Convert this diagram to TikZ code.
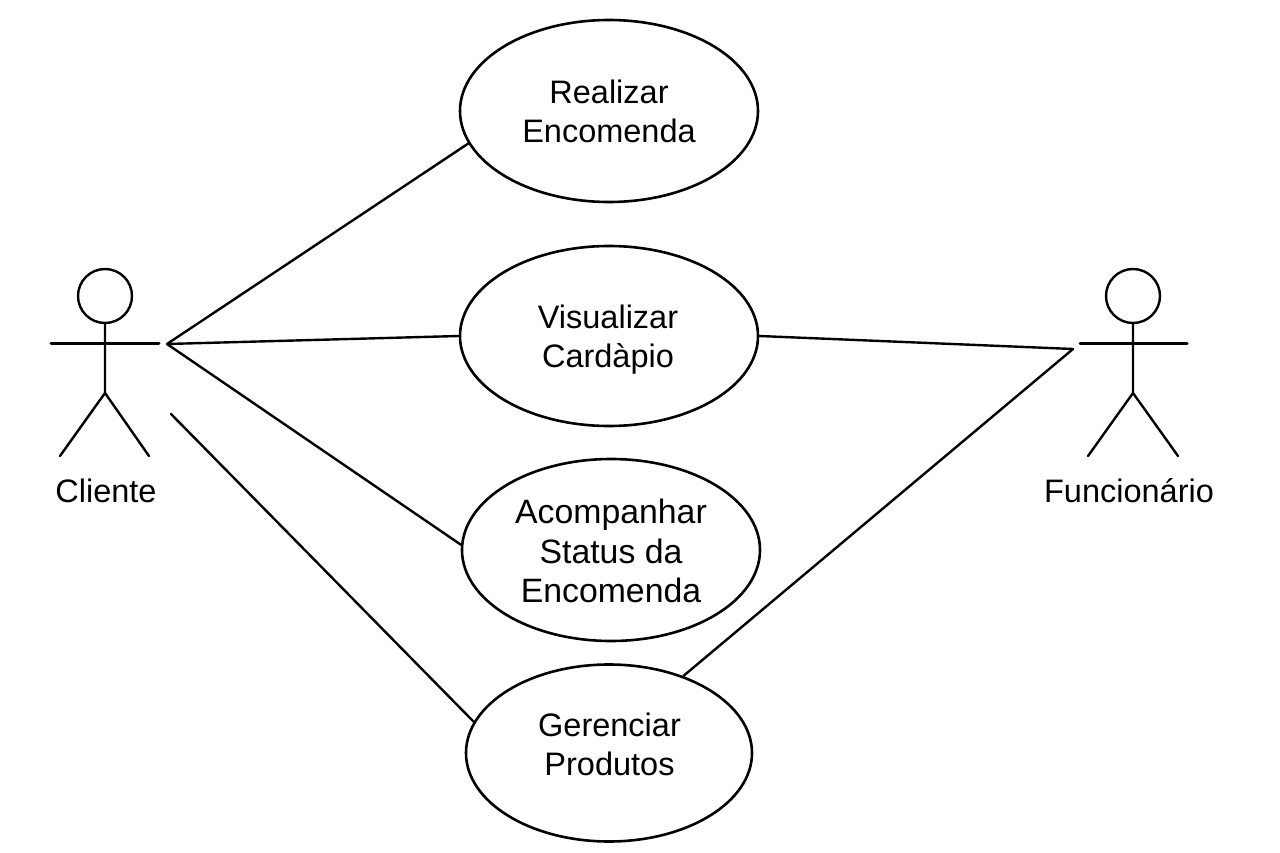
\documentclass[tikz,border=0pt]{standalone}
\usepackage{fontspec}
\setmainfont{Liberation Sans}
\usetikzlibrary{shapes.geometric}
\tikzset{
  uc/.style={draw,ellipse,line width=2.6pt,inner sep=0pt},
  lnk/.style={line width=2.4pt,line cap=round},
  arm/.style={line width=3pt,line cap=round},
  lab/.style={font=\fontsize{32.5pt}{39pt}\selectfont,align=center,inner sep=0pt},
  labw/.style={font=\fontsize{33.8pt}{39.5pt}\selectfont,align=center,inner sep=0pt},
  head/.style={draw,circle,line width=2.4pt,minimum size=54pt,inner sep=0pt},
}
\begin{document}
\begin{tikzpicture}[x=1pt,y=-1pt]
\useasboundingbox (0,0) rectangle (1280,853);
\node[uc,minimum width=298pt,minimum height=182pt] (a) at (609,111) {};
\node[lab] (at) at (609,111.5) {Realizar\\Encomenda};
\node[uc,minimum width=298pt,minimum height=180pt] (b) at (609,336) {};
\node[lab] (bt) at (608,339.5) {Visualizar\\Cardàpio};
\node[uc,minimum width=298pt,minimum height=182pt] (c) at (611,550) {};
\node[labw] (ct) at (611,551) {Acompanhar\\Status da\\Encomenda};
\node[uc,minimum width=286pt,minimum height=177pt] (d) at (609,753) {};
\node[lab] (dt) at (609.5,744.5) {Gerenciar\\Produtos};
% Cliente
\node[head] (h1) at (105,296) {};
\coordinate (la1) at (51,343);
\coordinate (ra1) at (159,343);
\coordinate (hip1) at (105,393);
\coordinate (lf1) at (60,456);
\coordinate (rf1) at (149,456);
\draw[lnk] (h1.south) -- (hip1) (lf1) -- (hip1) -- (rf1);
\draw[arm] (la1) -- (ra1);
\node[lab] (cl) at (106,491) {Cliente};
% Funcionario
\node[head] (h2) at (1133,296) {};
\coordinate (la2) at (1080,343);
\coordinate (ra2) at (1187,343);
\coordinate (hip2) at (1133,393);
\coordinate (lf2) at (1088,456);
\coordinate (rf2) at (1178,456);
\draw[lnk] (h2.south) -- (hip2) (lf2) -- (hip2) -- (rf2);
\draw[arm] (la2) -- (ra2);
\node[lab] (fu) at (1129,491) {Funcionário};
% links
\coordinate (p1) at (167,344);
\coordinate (p2) at (171,414);
\coordinate (p3) at (1073,349);
\draw[lnk] (p1) -- (a.193);
\draw[lnk] (p1) -- (b.west);
\draw[lnk] (p1) -- (c.178);
\draw[lnk] (p2) -- (d.167);
\draw[lnk] (b.east) -- (p3);
\draw[lnk] (p3) -- (d.46);
\end{tikzpicture}
\end{document}
